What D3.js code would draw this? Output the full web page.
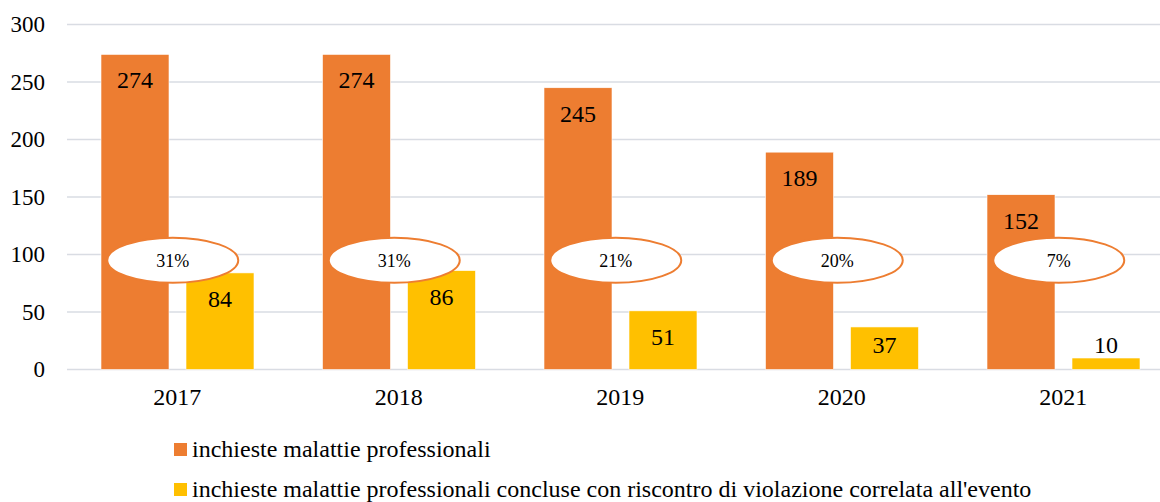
<!DOCTYPE html>
<html>
<head>
<meta charset="utf-8">
<script src="https://cdn.jsdelivr.net/npm/d3@7"></script>
<style>
  html, body { margin: 0; padding: 0; background: #fff; overflow: hidden; }
  text { font-family: "Liberation Serif", "Times New Roman", serif; fill: #000; }
</style>
</head>
<body>
<svg id="chart" width="1160" height="502"></svg>
<script>
const years = ["2017", "2018", "2019", "2020", "2021"];
const inchieste = [274, 274, 245, 189, 152];
const concluse = [84, 86, 51, 37, 10];
const percentuali = ["31%", "31%", "21%", "20%", "7%"];
const yTicks = [0, 50, 100, 150, 200, 250, 300];
const seriesNames = [
  "inchieste malattie professionali",
  "inchieste malattie professionali concluse con riscontro di violazione correlata all'evento"
];
const colors = ["#ED7D31", "#FFC000"];

const svg = d3.select("#chart");
const W = +svg.attr("width");

const y = d3.scaleLinear().domain([0, 300]).range([369.5, 24.5]);
const x = d3.scaleBand().domain(years).range([67, 1174.5]).padding(0);
const xs = d3.scaleBand().domain([0, 1]).range([34, 187]).paddingInner(0.2);

// gridlines
svg.append("g")
  .selectAll("line")
  .data(yTicks)
  .join("line")
  .attr("x1", 67).attr("x2", W)
  .attr("y1", d => y(d)).attr("y2", d => y(d))
  .attr("stroke", "#D9DCE3")
  .attr("stroke-width", 1.5);

// y axis labels
svg.append("g")
  .selectAll("text")
  .data(yTicks)
  .join("text")
  .attr("x", 45)
  .attr("y", d => y(d))
  .attr("dy", "0.34em")
  .attr("text-anchor", "end")
  .attr("font-size", 23)
  .text(d => d);

// x labels
svg.append("g")
  .selectAll("text")
  .data(years)
  .join("text")
  .attr("x", d => x(d) + x.bandwidth() / 2 - 0.5)
  .attr("y", 405)
  .attr("text-anchor", "middle")
  .attr("font-size", 24)
  .text(d => d);

// bars
const rows = years.map((yr, i) => [
  { yr, s: 0, v: inchieste[i] },
  { yr, s: 1, v: concluse[i] }
]).flat();

const bars = svg.append("g");
bars.selectAll("rect")
  .data(rows)
  .join("rect")
  .attr("x", d => x(d.yr) + xs(d.s))
  .attr("width", xs.bandwidth())
  .attr("y", d => y(d.v))
  .attr("height", d => y(0) - y(d.v))
  .attr("fill", d => colors[d.s])
  .attr("stroke", "#fff")
  .attr("stroke-width", 0.6);

bars.selectAll("text")
  .data(rows)
  .join("text")
  .attr("x", d => x(d.yr) + xs(d.s) + xs.bandwidth() / 2)
  .attr("y", d => Math.min(y(d.v) + 34, y(0) - 16.5))
  .attr("text-anchor", "middle")
  .attr("font-size", 24)
  .text(d => d.v);

// percentage ellipses
const pct = svg.append("g")
  .selectAll("g")
  .data(years)
  .join("g")
  .attr("transform", d => `translate(${x(d) + x.bandwidth() / 2 - 5},${y(95)})`);

pct.append("ellipse")
  .attr("rx", 65.5)
  .attr("ry", 22.5)
  .attr("fill", "#fff")
  .attr("stroke", "#ED7D31")
  .attr("stroke-width", 2);

pct.append("text")
  .attr("text-anchor", "middle")
  .attr("dy", "0.35em")
  .attr("font-size", 18)
  .text((d, i) => percentuali[i]);

// legend
const leg = svg.append("g")
  .selectAll("g")
  .data(seriesNames)
  .join("g")
  .attr("transform", (d, i) => `translate(174,${443 + i * 40})`);

leg.append("rect")
  .attr("width", 13)
  .attr("height", 13)
  .attr("fill", (d, i) => colors[i]);

leg.append("text")
  .attr("x", 18)
  .attr("y", 13.7)
  .attr("font-size", 24)
  .text(d => d);
</script>
</body>
</html>
